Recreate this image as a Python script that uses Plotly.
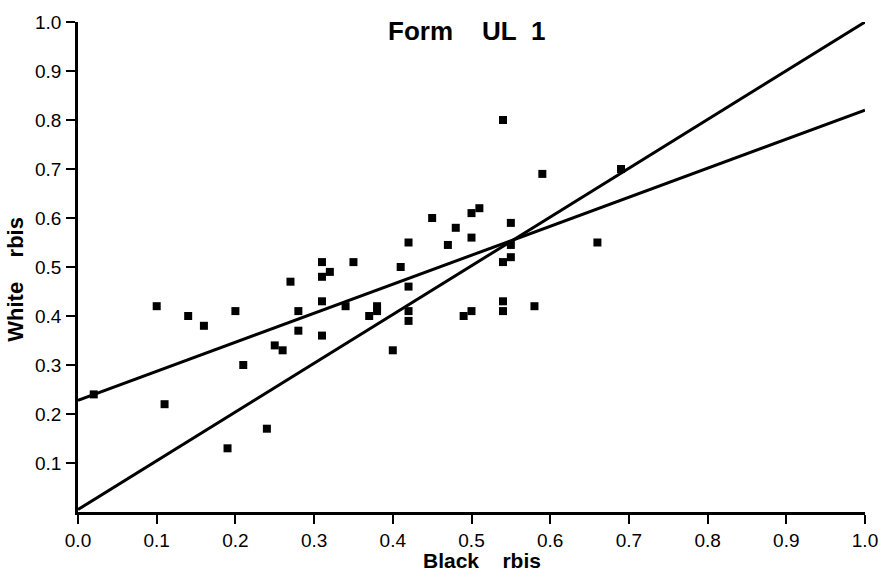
import plotly.graph_objects as go

# Item discrimination (biserial r) for black vs. white examinees, Form UL 1
black_rbis = [
    0.02, 0.10, 0.11, 0.14, 0.16, 0.20, 0.19, 0.21, 0.24, 0.25,
    0.26, 0.28, 0.28, 0.31, 0.31, 0.34, 0.37, 0.38, 0.38, 0.40,
    0.42, 0.42, 0.27, 0.31, 0.31, 0.32, 0.35, 0.41, 0.42, 0.42,
    0.45, 0.47, 0.54, 0.59, 0.69, 0.51, 0.50, 0.48, 0.50, 0.55,
    0.55, 0.55, 0.54, 0.66, 0.54, 0.54, 0.50, 0.49, 0.58,
]
white_rbis = [
    0.24, 0.42, 0.22, 0.40, 0.38, 0.41, 0.13, 0.30, 0.17, 0.34,
    0.33, 0.41, 0.37, 0.43, 0.36, 0.42, 0.40, 0.42, 0.41, 0.33,
    0.41, 0.39, 0.47, 0.51, 0.48, 0.49, 0.51, 0.50, 0.55, 0.46,
    0.60, 0.545, 0.80, 0.69, 0.70, 0.62, 0.61, 0.58, 0.56, 0.59,
    0.545, 0.52, 0.51, 0.55, 0.43, 0.41, 0.41, 0.40, 0.42,
]

# Two fitted lines across the full range of Black rbis
line_x = [0.0, 1.0]
line_a_y = [0.005, 1.0]
line_b_y = [0.228, 0.82]

tick_vals_x = [0.0, 0.1, 0.2, 0.3, 0.4, 0.5, 0.6, 0.7, 0.8, 0.9, 1.0]
tick_vals_y = [0.1, 0.2, 0.3, 0.4, 0.5, 0.6, 0.7, 0.8, 0.9, 1.0]

FONT = "Liberation Sans, Arial, Helvetica, sans-serif"
NB = "\u00a0"

fig = go.Figure()

for ys in (line_a_y, line_b_y):
    fig.add_trace(go.Scatter(
        x=line_x, y=ys, mode="lines",
        line=dict(color="black", width=3),
        cliponaxis=False, showlegend=False, hoverinfo="skip",
    ))

fig.add_trace(go.Scatter(
    x=black_rbis, y=white_rbis, mode="markers",
    marker=dict(symbol="square", size=8, color="black",
                line=dict(width=0)),
    cliponaxis=False, showlegend=False,
))

axis_common = dict(
    range=[0, 1],
    showgrid=False, zeroline=False,
    showline=True, linecolor="black", linewidth=2.8,
    ticks="outside", ticklen=9, tickwidth=2.2, tickcolor="black",
    tickformat=".1f",
)

fig.update_xaxes(
    **axis_common, tickvals=tick_vals_x, ticklabelstandoff=0,
    tickfont=dict(family=FONT, size=19, color="black"),
)
fig.update_yaxes(
    **axis_common, tickvals=tick_vals_y, ticklabelstandoff=1,
    tickfont=dict(family=FONT, size=19, color="black"),
)

text_font = dict(family=FONT, color="black")
fig.add_annotation(
    text=f"<b>Form{NB*4}UL{NB*2}1</b>", xref="paper", yref="paper",
    x=0.4936, y=0.982, xanchor="center", yanchor="middle",
    showarrow=False, font=dict(**text_font, size=26),
)
fig.add_annotation(
    text=f"<b>Black{NB*4}rbis</b>", xref="paper", yref="paper",
    x=0.5133, y=-0.0984, xanchor="center", yanchor="middle",
    showarrow=False, font=dict(**text_font, size=21),
)
fig.add_annotation(
    text=f"<b>White{NB*4}rbis</b>", xref="paper", yref="paper",
    x=-0.0788, y=0.476, xanchor="center", yanchor="middle",
    textangle=-90, showarrow=False, font=dict(**text_font, size=22),
)

fig.update_layout(
    width=893, height=579,
    margin=dict(l=78, r=28, t=14, b=67),
    paper_bgcolor="white", plot_bgcolor="white",
)

fig.write_html("out.html")
